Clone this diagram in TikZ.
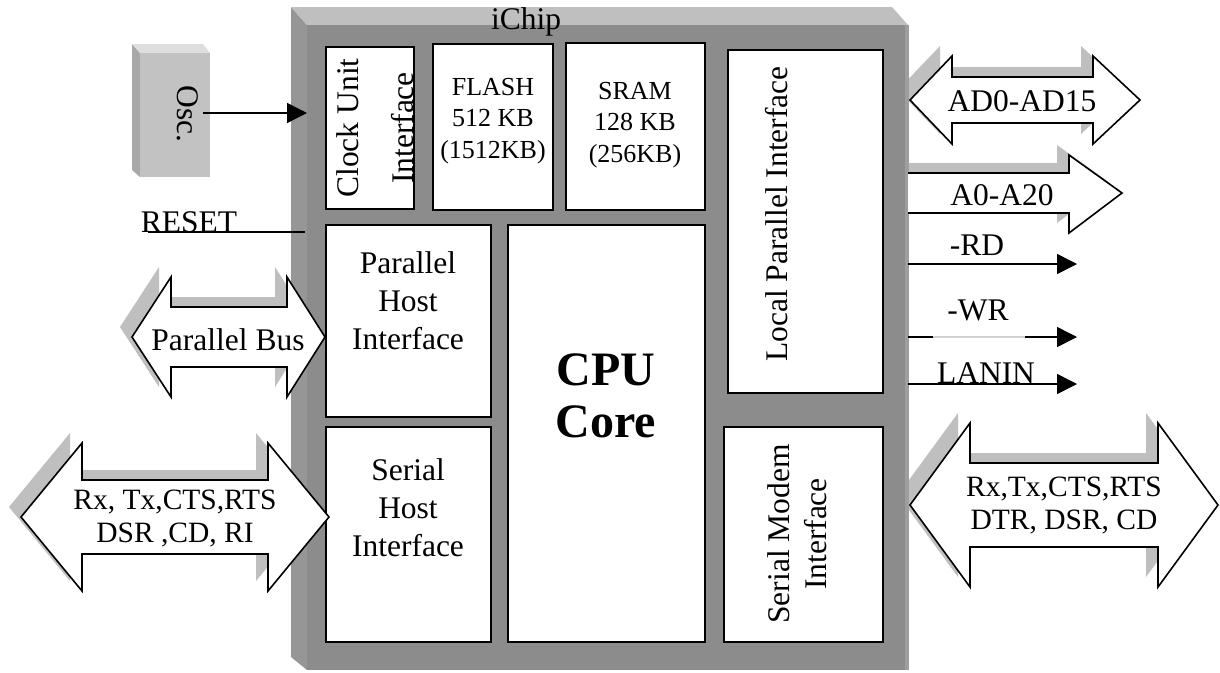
\documentclass[tikz,border=0pt]{standalone}
\usepackage{fontspec}
\setmainfont{Liberation Serif}
\usetikzlibrary{arrows.meta}
\definecolor{chipfront}{gray}{0.55}
\definecolor{chiptop}{gray}{0.75}
\definecolor{chipside}{gray}{0.59}
\definecolor{chipedge}{gray}{0.62}
\definecolor{shadowgray}{gray}{0.75}
\definecolor{osctop}{gray}{0.87}
\definecolor{oscfront}{gray}{0.76}
\definecolor{oscside}{gray}{0.66}
\definecolor{wrgap}{gray}{0.82}
\newcommand{\DArrowPath}[7]{(#1,#5) -- (#2,{#5-#6}) -- (#2,{#5-#7}) -- (#3,{#5-#7}) -- (#3,{#5-#6}) -- (#4,#5) -- (#3,{#5+#6}) -- (#3,{#5+#7}) -- (#2,{#5+#7}) -- (#2,{#5+#6}) -- cycle}
\begin{document}
\begin{tikzpicture}[x=1pt,y=-1pt,
  ibox/.style={draw=black,fill=white,line width=1.6pt,inner sep=0pt},
  blk/.style={draw=black,fill=white,line width=1.6pt,line join=miter},
  shd/.style={fill=shadowgray},
  sig/.style={line width=1.5pt,-{Triangle[length=20pt,width=20pt]}},
  lbl/.style={inner sep=0pt,font=\fontsize{31.5}{38}\selectfont,align=center},
  mem/.style={inner sep=0pt,font=\fontsize{26}{31.5}\selectfont,align=center},
  bus/.style={inner sep=0pt,font=\fontsize{29.5}{33}\selectfont,align=center},
  cpufont/.style={inner sep=0pt,font=\fontsize{48}{52}\selectfont\bfseries,align=center}
]
\useasboundingbox (0,0) rectangle (1220,672);
\fill[white] (0,0) rectangle (1220,672);

% ---- shadows of block arrows ----
\fill[shd, shift={(-12,-10)}] \DArrowPath{910}{952}{1093}{1140}{100}{44}{23};
\fill[shd, shift={(-12,-10)}] (896,173) -- (1069,173) -- (1069,155) -- (1122,193) -- (1069,233) -- (1069,213) -- (896,213) -- cycle;
\fill[shd, shift={(-12,-10)}] \DArrowPath{910}{970}{1158}{1218}{505}{82}{42};
\fill[shd, shift={(-12,-10)}] \DArrowPath{132}{171}{287}{325}{337}{60}{30};
\fill[shd, shift={(-12,-10)}] \DArrowPath{21}{82}{268}{329}{517}{74}{37};

% ---- chip body ----
\fill[chipside] (291,7) -- (307,25) -- (307,670) -- (291,657) -- cycle;
\fill[chiptop] (291,7) -- (892,7) -- (908,25) -- (307,25) -- cycle;
\fill[chipfront] (307,25) rectangle (905,670);
\fill[chipedge] (905,25) rectangle (909,670);
\node[lbl] (ichip) at (526,22) {iChip};

% ---- inner blocks ----
\node[ibox, minimum width=88pt, minimum height=162pt] (clock) at (370,128) {};
\node[lbl, rotate=90, font=\fontsize{31.5}{55}\selectfont] (clocktxt) at (375,128) {Clock Unit\\Interface};
\node[ibox, minimum width=120pt, minimum height=166pt] (flash) at (493,127) {};
\node[mem] (flashtxt) at (493,121) {FLASH\\512 KB\\(1512KB)};
\node[ibox, minimum width=139pt, minimum height=167pt] (sram) at (635.5,126.5) {};
\node[mem] (sramtxt) at (635,125) {SRAM\\128 KB\\(256KB)};
\node[ibox, minimum width=155pt, minimum height=343pt] (lpi) at (805.5,221.5) {};
\node[lbl, rotate=90] (lpitxt) at (777,214) {Local Parallel Interface};
\node[ibox, minimum width=165pt, minimum height=192pt] (phi) at (408.5,321) {};
\node[lbl] (phitxt) at (408,301) {Parallel\\Host\\Interface};
\node[ibox, minimum width=165pt, minimum height=215pt] (shi) at (408.5,534.5) {};
\node[lbl] (shitxt) at (408,508) {Serial\\Host\\Interface};
\node[ibox, minimum width=197pt, minimum height=417pt] (cpu) at (606.5,433.5) {};
\node[cpufont] (cputxt) at (606,396) {CPU\\Core};
\node[ibox, minimum width=159pt, minimum height=215pt] (smi) at (803.5,534.5) {};
\node[lbl, rotate=90, font=\fontsize{31.5}{37}\selectfont] (smitxt) at (797,534) {Serial Modem\\Interface};

% ---- oscillator ----
\fill[oscside] (132,44) -- (140,53) -- (140,177) -- (132,170) -- cycle;
\fill[osctop] (132,44) -- (203,44) -- (210,53) -- (140,53) -- cycle;
\fill[oscfront] (140,53) rectangle (210,177);
\node[lbl, rotate=-90] (osc) at (188,114) {Osc.};
\coordinate (oscout) at (203,113);
\coordinate (clkin) at (307,113);
\draw[sig] (oscout) -- (clkin);

% ---- reset ----
\node[lbl] (reset) at (189,222) {RESET};
\coordinate (rstA) at (148,232);
\coordinate (rstB) at (305,232);
\draw[line width=1.5pt] (rstA) -- (rstB);

% ---- block arrows ----
\draw[blk] \DArrowPath{910}{952}{1093}{1140}{100}{44}{23};
\node[lbl] (adbus) at (1022,101) {AD0-AD15};
\fill[white] (908,173) -- (1069,173) -- (1069,155) -- (1122,193) -- (1069,233) -- (1069,213) -- (908,213) -- cycle;
\draw[blk, fill=none] (908,173) -- (1069,173) -- (1069,155) -- (1122,193) -- (1069,233) -- (1069,213) -- (908,213);
\node[lbl] (abus) at (1002,195) {A0-A20};
\draw[blk] \DArrowPath{910}{970}{1158}{1218}{505}{82}{42};
\node[bus] (mdmbus) at (1064,505) {Rx,Tx,CTS,RTS\\DTR, DSR, CD};
\draw[blk] \DArrowPath{132}{171}{287}{325}{337}{60}{30};
\node[lbl] (pbus) at (228,340) {Parallel Bus};
\draw[blk] \DArrowPath{21}{82}{268}{329}{517}{74}{37};
\node[bus] (hbus) at (175,518) {Rx, Tx,CTS,RTS\\DSR ,CD, RI};

% ---- control signals ----
\coordinate (rdA) at (908,264);
\coordinate (rdB) at (1077,264);
\draw[sig] (rdA) -- (rdB);
\node[lbl] (rd) at (977,245) {-RD};
\coordinate (wrA) at (908,337);
\coordinate (wrB) at (1077,337);
\coordinate (wrG1) at (933,337);
\coordinate (wrG2) at (1025,337);
\draw[sig] (wrA) -- (wrB);
\draw[wrgap, line width=1.5pt] (wrG1) -- (wrG2);
\node[lbl] (wr) at (978,310) {-WR};
\coordinate (lanA) at (908,384);
\coordinate (lanB) at (1077,384);
\node[lbl] (lanin) at (986,373) {LANIN};
\draw[sig] (lanA) -- (lanB);
\end{tikzpicture}
\end{document}
